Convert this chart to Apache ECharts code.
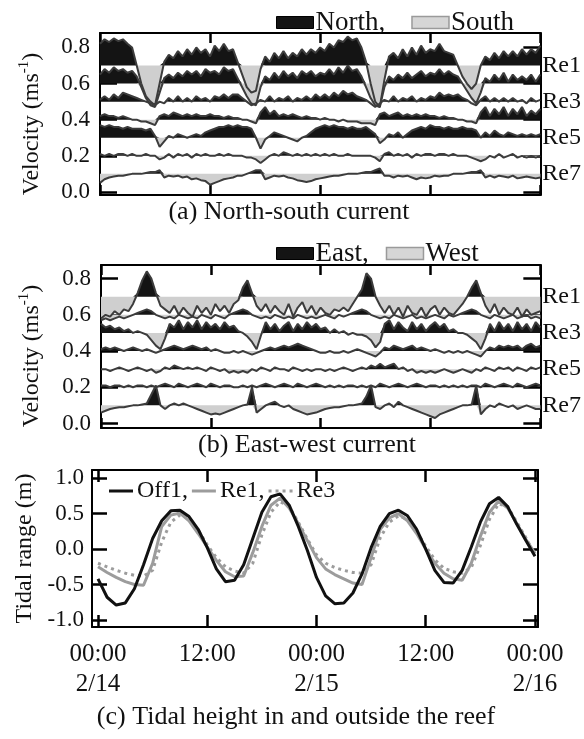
<!DOCTYPE html>
<html><head><meta charset="utf-8">
<script src="https://cdn.jsdelivr.net/npm/echarts@6/dist/echarts.min.js"></script>
<style>html,body{margin:0;padding:0;background:#fff}#c{width:584px;height:739px}</style>
</head><body><div id="c"></div>
<script>
const FONT = 'Liberation Serif';
const STEP_H = 0.5; // sampling step of the current records (hours)

// ---------- (a) North-south current, plotted values (offset baselines) ----------
const nsBase = [0.7, 0.6, 0.5, 0.4, 0.3, 0.2, 0.1];
const nsRe1 = [.82,.845,.83,.85,.835,.845,.82,.80,.70,.60,
  .53,.50,.48,.60,.72,.76,.74,.78,.75,.79,
  .76,.80,.77,.79,.75,.81,.78,.82,.78,.79,
  .72,.65,.58,.55,.56,.68,.75,.72,.77,.74,
  .78,.74,.77,.75,.79,.76,.79,.77,.80,.78,
  .82,.80,.84,.83,.86,.84,.85,.80,.72,.60,
  .50,.47,.62,.75,.77,.74,.79,.75,.80,.76,
  .81,.77,.79,.78,.82,.78,.77,.76,.70,.64,
  .60,.57,.60,.70,.75,.73,.77,.74,.78,.75,
  .78,.75,.79,.76,.79,.77,.81];
const nsRe2 = [.65,.68,.66,.69,.67,.68,.66,.67,.64,.58,
  .52,.48,.47,.55,.63,.65,.63,.66,.64,.67,
  .65,.67,.64,.68,.66,.67,.65,.69,.67,.68,
  .63,.58,.53,.49,.48,.58,.64,.62,.66,.63,
  .67,.64,.66,.63,.67,.65,.67,.64,.66,.65,
  .68,.65,.69,.66,.70,.67,.68,.64,.58,.52,
  .48,.47,.58,.64,.62,.65,.63,.66,.63,.65,
  .67,.64,.66,.65,.68,.65,.67,.65,.64,.60,
  .56,.52,.49,.55,.63,.61,.65,.62,.66,.61,
  .65,.62,.64,.62,.65,.61,.65];
const nsRe3 = [.51,.53,.51,.54,.52,.55,.54,.53,.52,.51,
  .50,.49,.48,.50,.49,.52,.50,.53,.50,.52,
  .50,.53,.51,.52,.50,.53,.52,.54,.52,.54,
  .54,.52,.50,.48,.49,.51,.50,.53,.50,.52,
  .51,.53,.50,.52,.51,.53,.51,.54,.52,.54,
  .52,.55,.53,.56,.54,.55,.53,.52,.51,.49,
  .47,.49,.51,.50,.53,.50,.52,.51,.53,.50,
  .52,.51,.53,.52,.55,.53,.54,.53,.54,.52,
  .51,.49,.48,.51,.53,.50,.52,.50,.52,.50,
  .52,.50,.51,.49,.52,.50,.51];
const nsRe4 = [.42,.43,.42,.42,.41,.42,.41,.40,.40,.39,
  .39,.38,.37,.42,.43,.42,.44,.43,.42,.43,
  .42,.43,.42,.42,.43,.42,.42,.41,.42,.41,
  .41,.40,.40,.39,.38,.44,.47,.43,.45,.42,
  .43,.42,.43,.42,.41,.42,.41,.41,.40,.41,
  .40,.40,.39,.40,.39,.39,.39,.38,.38,.38,
  .37,.43,.44,.42,.43,.44,.42,.43,.42,.43,
  .42,.43,.42,.42,.41,.42,.41,.41,.40,.40,
  .39,.39,.38,.44,.47,.42,.46,.43,.47,.42,
  .46,.43,.47,.42,.45,.43,.46];
const nsRe5 = [.37,.36,.37,.36,.36,.35,.36,.35,.35,.35,
  .34,.35,.31,.25,.28,.31,.30,.32,.31,.30,
  .31,.32,.31,.33,.34,.35,.36,.36,.37,.36,
  .37,.36,.36,.35,.30,.24,.29,.31,.33,.32,
  .31,.30,.29,.28,.30,.31,.33,.35,.36,.37,
  .36,.37,.36,.36,.35,.36,.35,.35,.36,.34,
  .32,.27,.29,.32,.31,.33,.30,.32,.34,.35,
  .36,.35,.37,.36,.36,.35,.36,.35,.35,.36,
  .35,.35,.34,.30,.33,.31,.34,.32,.31,.33,
  .32,.31,.32,.31,.32,.31,.32];
const nsRe6 = [.21,.20,.21,.20,.21,.21,.20,.21,.20,.20,
  .21,.20,.20,.18,.19,.21,.19,.21,.20,.21,
  .19,.21,.20,.21,.20,.20,.21,.20,.21,.20,
  .20,.20,.19,.19,.18,.16,.18,.20,.21,.20,
  .22,.21,.20,.21,.20,.21,.20,.21,.20,.21,
  .20,.21,.20,.20,.21,.20,.20,.20,.20,.20,
  .19,.17,.21,.22,.20,.21,.20,.21,.19,.21,
  .20,.21,.21,.20,.21,.21,.20,.21,.20,.20,
  .20,.19,.18,.17,.18,.20,.19,.21,.19,.20,
  .21,.19,.20,.19,.20,.19,.20];
const nsRe7 = [.05,.07,.08,.085,.09,.09,.095,.10,.10,.10,
  .105,.11,.11,.12,.08,.09,.085,.09,.08,.085,
  .07,.075,.065,.06,.04,.05,.06,.07,.075,.08,
  .09,.09,.10,.11,.12,.12,.07,.08,.09,.085,
  .09,.08,.075,.065,.06,.055,.06,.07,.075,.08,
  .085,.09,.09,.095,.10,.10,.10,.105,.11,.11,
  .12,.13,.09,.09,.08,.09,.085,.09,.08,.07,
  .08,.075,.08,.09,.085,.09,.09,.10,.10,.10,
  .105,.11,.11,.12,.08,.09,.08,.09,.085,.08,
  .09,.075,.08,.085,.08,.075,.08];

// ---------- (b) East-west current ----------
const ewBase = [0.7, 0.6, 0.5, 0.4, 0.3, 0.2, 0.1];
const ewRe1 = [.58,.60,.59,.62,.60,.63,.62,.66,.72,.79,
  .84,.80,.72,.65,.63,.61,.65,.60,.64,.61,
  .59,.65,.61,.64,.60,.66,.62,.65,.61,.66,
  .68,.75,.79,.72,.65,.62,.66,.61,.65,.62,
  .60,.66,.59,.64,.67,.61,.65,.60,.64,.61,
  .60,.63,.62,.64,.62,.66,.70,.74,.83,.80,
  .70,.65,.61,.65,.60,.64,.59,.65,.61,.60,
  .64,.59,.63,.65,.60,.64,.61,.60,.63,.66,
  .70,.75,.79,.72,.65,.61,.66,.60,.64,.61,
  .60,.64,.59,.63,.60,.61,.62];
const ewRe2 = [.57,.58,.57,.58,.59,.58,.59,.60,.61,.62,
  .63,.62,.60,.59,.58,.59,.58,.60,.59,.58,
  .59,.58,.60,.59,.58,.60,.59,.58,.60,.61,
  .62,.63,.62,.60,.59,.58,.59,.58,.60,.59,
  .58,.59,.58,.60,.59,.58,.59,.58,.59,.60,
  .59,.58,.60,.59,.60,.61,.62,.63,.62,.60,
  .59,.58,.59,.58,.60,.59,.58,.59,.60,.58,
  .59,.58,.59,.60,.59,.58,.60,.59,.60,.61,
  .62,.63,.62,.60,.59,.58,.60,.59,.58,.59,
  .60,.58,.59,.60,.58,.59,.58];
const ewRe3 = [.55,.53,.54,.52,.53,.51,.52,.50,.51,.50,
  .49,.46,.43,.41,.47,.55,.53,.57,.52,.56,
  .53,.57,.52,.56,.53,.55,.52,.56,.53,.54,
  .51,.50,.48,.45,.41,.49,.56,.52,.55,.51,
  .54,.56,.51,.55,.52,.56,.53,.55,.52,.53,
  .50,.52,.50,.51,.49,.50,.49,.49,.48,.46,
  .42,.45,.55,.57,.52,.56,.53,.51,.56,.52,
  .55,.51,.54,.56,.53,.55,.51,.52,.50,.50,
  .49,.47,.45,.41,.47,.55,.51,.56,.52,.55,
  .51,.56,.52,.55,.51,.56,.53];
const ewRe4 = [.41,.42,.41,.42,.41,.40,.41,.42,.41,.40,
  .41,.40,.39,.40,.41,.42,.43,.42,.41,.42,
  .43,.42,.41,.42,.40,.41,.40,.39,.39,.40,
  .39,.40,.39,.38,.39,.40,.41,.42,.41,.42,
  .43,.42,.43,.44,.43,.42,.41,.40,.39,.39,
  .40,.39,.39,.40,.39,.40,.41,.40,.39,.38,
  .37,.39,.42,.41,.43,.42,.41,.42,.43,.41,
  .42,.41,.40,.41,.40,.39,.40,.39,.40,.39,
  .40,.39,.38,.37,.40,.42,.41,.43,.42,.43,
  .42,.43,.41,.43,.44,.42,.43];
const ewRe5 = [.30,.30,.29,.30,.31,.30,.29,.30,.31,.30,
  .29,.30,.28,.29,.31,.30,.32,.31,.30,.31,
  .30,.31,.30,.29,.31,.30,.29,.30,.28,.29,
  .28,.29,.28,.30,.29,.31,.30,.29,.31,.30,
  .30,.29,.31,.30,.29,.30,.29,.30,.30,.29,
  .30,.29,.30,.31,.30,.29,.30,.31,.30,.32,
  .31,.33,.31,.32,.33,.30,.31,.29,.30,.28,
  .29,.28,.29,.28,.29,.30,.29,.28,.29,.30,
  .29,.28,.30,.29,.31,.30,.29,.31,.30,.31,
  .29,.31,.30,.29,.31,.30,.31];
const ewRe6 = [.21,.21,.20,.21,.21,.20,.21,.20,.21,.21,
  .20,.21,.20,.21,.22,.21,.20,.22,.21,.20,
  .21,.22,.21,.20,.22,.21,.20,.21,.21,.20,
  .20,.21,.20,.21,.20,.21,.22,.21,.20,.21,
  .22,.21,.20,.22,.21,.20,.21,.22,.21,.20,
  .21,.20,.21,.20,.21,.21,.20,.21,.20,.21,
  .20,.22,.21,.20,.21,.22,.21,.20,.21,.22,
  .21,.20,.21,.21,.20,.21,.20,.21,.20,.21,
  .20,.21,.21,.20,.22,.21,.20,.21,.22,.21,
  .20,.22,.21,.20,.21,.22,.21];
const ewRe7 = [.06,.07,.08,.085,.09,.09,.095,.10,.10,.105,
  .11,.16,.21,.10,.08,.10,.11,.10,.11,.10,
  .09,.08,.07,.06,.05,.055,.05,.06,.07,.08,
  .09,.10,.105,.20,.06,.08,.10,.11,.12,.10,
  .09,.10,.08,.07,.06,.05,.055,.06,.07,.08,
  .085,.09,.09,.095,.10,.10,.105,.11,.15,.21,
  .09,.08,.10,.11,.09,.12,.10,.09,.08,.07,
  .06,.05,.04,.03,.05,.06,.07,.08,.09,.10,
  .10,.105,.21,.05,.08,.10,.09,.11,.10,.09,
  .10,.08,.09,.10,.09,.08,.08];

const stationLabelValues = [0.7, 0.5, 0.3, 0.1];
const stationLabels = ['Re1', 'Re3', 'Re5', 'Re7'];

// ---------- (c) Tidal height (hourly) ----------
const tideOff1 = [-0.42,-0.68,-0.79,-0.76,-0.56,-0.22,0.15,0.40,0.54,0.55,
  0.46,0.28,0.02,-0.28,-0.46,-0.44,-0.22,0.15,0.52,0.74,
  0.78,0.62,0.32,-0.02,-0.40,-0.66,-0.77,-0.76,-0.62,-0.35,
  0.02,0.32,0.50,0.55,0.47,0.28,0.00,-0.30,-0.47,-0.48,
  -0.30,0.03,0.38,0.64,0.73,0.60,0.35,0.12,-0.10];
const tideRe1 = [-0.25,-0.33,-0.40,-0.46,-0.50,-0.51,-0.20,0.32,0.48,0.51,
  0.40,0.22,0.03,-0.16,-0.32,-0.39,-0.38,-0.05,0.32,0.62,
  0.72,0.58,0.36,0.12,-0.12,-0.28,-0.36,-0.42,-0.48,-0.50,
  -0.12,0.28,0.44,0.50,0.40,0.22,0.00,-0.20,-0.34,-0.42,
  -0.44,-0.20,0.18,0.52,0.68,0.58,0.36,0.14,-0.06];
const tideRe3 = [-0.20,-0.25,-0.30,-0.34,-0.37,-0.38,-0.30,0.10,0.38,0.48,
  0.44,0.27,0.06,-0.12,-0.25,-0.31,-0.34,-0.20,0.20,0.52,
  0.67,0.60,0.38,0.14,-0.08,-0.20,-0.26,-0.30,-0.33,-0.34,
  -0.22,0.16,0.38,0.47,0.42,0.25,0.04,-0.15,-0.27,-0.32,
  -0.34,-0.26,0.05,0.42,0.64,0.60,0.38,0.16,-0.08];
const tideTickHours = [0, 12, 24, 36, 48];
const tideTickLabels = ['00:00\n2/14', '12:00', '00:00\n2/15', '12:00', '00:00\n2/16'];

// ---------- build ----------
const FILL_UP = '#141414', FILL_DN = '#cfcfcf', LINE_C = '#3c3c3c';
const fills = [], lines = [];
function addStations(arrs, bases, axisIdx, upName, dnName) {
  arrs.forEach((vals, k) => {
    const b = bases[k];
    const common = { type: 'line', xAxisIndex: axisIdx, yAxisIndex: axisIdx * 2, symbol: 'none', showSymbol: false, silent: true, animation: false };
    fills.push(Object.assign({}, common, {
      name: upName, data: vals.map((v, i) => [i * STEP_H, Math.max(v, b)]),
      lineStyle: { width: 0 }, itemStyle: { color: FILL_UP },
      areaStyle: { origin: b, color: FILL_UP, opacity: 1 }
    }));
    fills.push(Object.assign({}, common, {
      name: dnName, data: vals.map((v, i) => [i * STEP_H, Math.min(v, b)]),
      lineStyle: { width: 0 }, itemStyle: { color: FILL_DN },
      areaStyle: { origin: b, color: FILL_DN, opacity: 1 }
    }));
    lines.push(Object.assign({}, common, {
      name: 'st' + axisIdx + '_' + k, data: vals.map((v, i) => [i * STEP_H, v]),
      lineStyle: { color: LINE_C, width: 2 }, z: 3
    }));
  });
}
addStations([nsRe1, nsRe2, nsRe3, nsRe4, nsRe5, nsRe6, nsRe7], nsBase, 0, 'North,', 'South');
addStations([ewRe1, ewRe2, ewRe3, ewRe4, ewRe5, ewRe6, ewRe7], ewBase, 1, 'East,', 'West');

const tideSeries = [
  { name: 'Off1,', data: tideOff1, color: '#111', type: 'solid' },
  { name: 'Re1,', data: tideRe1, color: '#9c9c9c', type: 'solid' },
  { name: 'Re3', data: tideRe3, color: '#9c9c9c', type: [3, 4] }
].map(s => ({
  type: 'line', name: s.name, xAxisIndex: 2, yAxisIndex: 4, symbol: 'none', showSymbol: false,
  animation: false, silent: true, itemStyle: { color: s.color },
  lineStyle: { color: s.color, width: 3, type: s.type },
  data: s.data.map((v, i) => [i, v])
}));
tideSeries.reverse();

const axisLine = { show: true, onZero: false, lineStyle: { color: '#000', width: 2 } };
function xAx(grid, pos, min, max, tickLen, labels) {
  return {
    type: 'value', gridIndex: grid, position: pos, min: min, max: max,
    axisLine: axisLine, splitLine: { show: false },
    axisTick: { inside: true, length: tickLen, customValues: [0, 12, 24, 36, 48], lineStyle: { color: '#000', width: 2.5 } },
    axisLabel: labels ? {
      customValues: tideTickHours, margin: 12, fontSize: 25, lineHeight: 30, color: '#111', fontFamily: FONT,
      formatter: v => tideTickLabels[tideTickHours.indexOf(Math.round(v))] || ''
    } : { show: false }
  };
}
const velName = '{a|Velocity (ms}{b|-1}{a|)}';
const velRich = { a: { fontSize: 24, fontFamily: FONT, fill: '#111', lineHeight: 30 }, b: { fontSize: 15, fontFamily: FONT, fill: '#111', verticalAlign: 'top', lineHeight: 30, padding: [0, 0, 12, 0] } };
function yLeft(grid, min, max) {
  return {
    type: 'value', gridIndex: grid, position: 'left', min: min, max: max,
    axisLine: axisLine, splitLine: { show: false },
    axisTick: { inside: true, length: 17, customValues: [0, 0.2, 0.4, 0.6, 0.8], lineStyle: { color: '#000', width: 2.5 } },
    axisLabel: { customValues: [0, 0.2, 0.4, 0.6, 0.8], formatter: v => v.toFixed(1), fontSize: 23, margin: 10, color: '#111', fontFamily: FONT }
  };
}
function yRight(grid, min, max) {
  return {
    type: 'value', gridIndex: grid, position: 'right', min: min, max: max,
    axisLine: axisLine, splitLine: { show: false },
    axisTick: { inside: true, length: 17, customValues: [0, 0.2, 0.4, 0.6, 0.8], lineStyle: { color: '#000', width: 2.5 } },
    axisLabel: { customValues: stationLabelValues, margin: 2, fontSize: 24, color: '#111', fontFamily: FONT,
      formatter: v => { let best = 0; stationLabelValues.forEach((s, i) => { if (Math.abs(s - v) < Math.abs(stationLabelValues[best] - v)) best = i; }); return stationLabels[best]; } }
  };
}

const option = {
  backgroundColor: '#fff',
  animation: false,
  textStyle: { fontFamily: FONT },
  grid: [
    { left: 100, top: 33, width: 441, height: 162 },
    { left: 101, top: 265, width: 440, height: 163 },
    { left: 92, top: 470, width: 446, height: 157 }
  ],
  legend: [
    { left: 271, top: 4, itemWidth: 37, itemHeight: 12, itemGap: 26, selectedMode: false,
      textStyle: { fontSize: 27, fontFamily: FONT, color: '#111', padding: [0, 0, 0, -3] },
      data: [{ name: 'North,', icon: 'rect', itemStyle: { color: FILL_UP, borderColor: '#000', borderWidth: 1 } },
             { name: 'South', icon: 'rect', itemStyle: { color: '#d6d6d6', borderColor: '#9a9a9a', borderWidth: 1.5 } }] },
    { left: 271, top: 235, itemWidth: 37, itemHeight: 12, itemGap: 17, selectedMode: false,
      textStyle: { fontSize: 27, fontFamily: FONT, color: '#111', padding: [0, 0, 0, -3] },
      data: [{ name: 'East,', icon: 'rect', itemStyle: { color: FILL_UP, borderColor: '#000', borderWidth: 1 } },
             { name: 'West', icon: 'rect', itemStyle: { color: '#d6d6d6', borderColor: '#9a9a9a', borderWidth: 1.5 } }] },
    { left: 104, top: 474, itemWidth: 24, itemHeight: 3, itemGap: 4, selectedMode: false,
      textStyle: { fontSize: 24, fontFamily: FONT, color: '#111', padding: [0, 0, 0, -1] },
      data: [
        { name: 'Off1,', icon: 'rect', itemStyle: { color: '#111', borderWidth: 0 } },
        { name: 'Re1,', icon: 'rect', itemStyle: { color: '#9c9c9c', borderWidth: 0 } },
        { name: 'Re3', icon: 'path://M0,0h3v3h-3zM7,0h3v3h-3zM14,0h3v3h-3zM21,0h3v3h-3z', itemStyle: { color: '#9c9c9c', borderWidth: 0 } }
      ] }
  ],
  xAxis: [
    xAx(0, 'bottom', 0, 48, 10, false),
    xAx(1, 'bottom', 0, 48, 10, false),
    xAx(2, 'bottom', -0.66, 48.33, 12, true),
    xAx(0, 'top', 0, 48, 10, false),
    xAx(1, 'top', 0, 48, 10, false),
    xAx(2, 'top', -0.66, 48.33, 12, false)
  ],
  yAxis: [
    yLeft(0, -0.017, 0.88), yRight(0, -0.017, 0.88),
    yLeft(1, -0.025, 0.875), yRight(1, -0.025, 0.875),
    {
      type: 'value', gridIndex: 2, position: 'left', min: -1.1, max: 1.117,
      axisLine: axisLine, splitLine: { show: false },
      axisTick: { inside: true, length: 15, customValues: [-1, -0.5, 0, 0.5, 1], lineStyle: { color: '#000', width: 2.5 } },
      axisLabel: { customValues: [-1, -0.5, 0, 0.5, 1], formatter: v => v.toFixed(1), fontSize: 23, margin: 8, color: '#111', fontFamily: FONT },
      name: 'Tidal range (m)', nameLocation: 'middle', nameRotate: 90, nameGap: 54,
      nameTextStyle: { fontSize: 24, fontFamily: FONT, color: '#111' }
    },
    {
      type: 'value', gridIndex: 2, position: 'right', min: -1.1, max: 1.117,
      axisLine: axisLine, splitLine: { show: false },
      axisTick: { inside: true, length: 15, customValues: [-1, -0.5, 0, 0.5, 1], lineStyle: { color: '#000', width: 2.5 } },
      axisLabel: { show: false }
    }
  ],
  graphic: [
    { type: 'text', x: 32, y: 124, rotation: Math.PI / 2, style: { text: velName, rich: velRich, align: 'center', verticalAlign: 'middle', fill: '#111' } },
    { type: 'text', x: 32, y: 356, rotation: Math.PI / 2, style: { text: velName, rich: velRich, align: 'center', verticalAlign: 'middle', fill: '#111' } },
    { type: 'text', x: 289, y: 212, style: { text: '(a) North-south current', font: '26px ' + FONT, fill: '#111', align: 'center', verticalAlign: 'middle' } },
    { type: 'text', x: 307, y: 445, style: { text: '(b) East-west current', font: '26px ' + FONT, fill: '#111', align: 'center', verticalAlign: 'middle' } },
    { type: 'text', x: 296, y: 717, style: { text: '(c) Tidal height in and outside the reef', font: '26px ' + FONT, fill: '#111', align: 'center', verticalAlign: 'middle' } }
  ],
  series: fills.concat(lines).concat(tideSeries)
};
const chart = echarts.init(document.getElementById('c'), null, { renderer: 'canvas' });
chart.setOption(option);
</script>
</body></html>
